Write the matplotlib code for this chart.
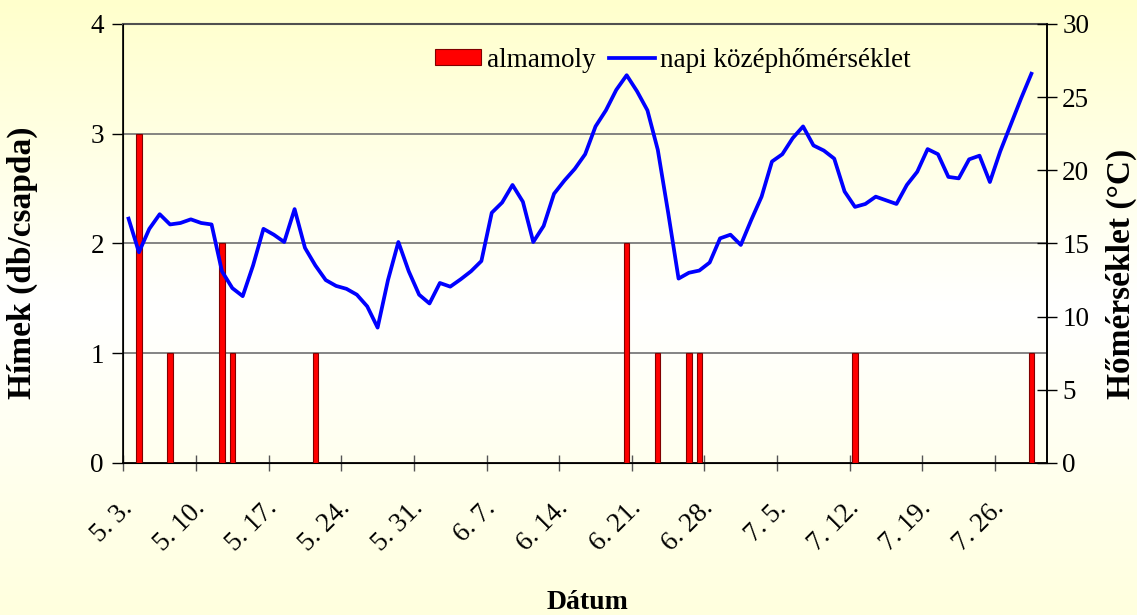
import numpy as np
import pandas as pd
import matplotlib
matplotlib.use('Agg')
import matplotlib.pyplot as plt
from matplotlib.patches import Patch
from matplotlib.lines import Line2D

# napok: 5.3. - 7.30.
days = pd.date_range('2020-05-03', '2020-07-30', freq='D')
day_labels = ['%d. %d.' % (d.month, d.day) for d in days]

# almamoly fogás (hím/csapda) naponta
moth = [0, 3, 0, 0, 1, 0, 0, 0, 0, 2, 1, 0, 0, 0, 0, 0, 0, 0, 1, 0,
        0, 0, 0, 0, 0, 0, 0, 0, 0, 0, 0, 0, 0, 0, 0, 0, 0, 0, 0, 0,
        0, 0, 0, 0, 0, 0, 0, 0, 2, 0, 0, 1, 0, 0, 1, 1, 0, 0, 0, 0,
        0, 0, 0, 0, 0, 0, 0, 0, 0, 0, 1, 0, 0, 0, 0, 0, 0, 0, 0, 0,
        0, 0, 0, 0, 0, 0, 0, 1, 0]

# napi középhőmérséklet (°C), 5.3. - 7.29.
temp = [16.7, 14.4, 16.0, 17.0, 16.3, 16.4, 16.65, 16.4, 16.3, 13.1,
        11.95, 11.4, 13.5, 16.0, 15.6, 15.1, 17.35, 14.7, 13.5, 12.5,
        12.1, 11.9, 11.5, 10.7, 9.25, 12.5, 15.1, 13.1, 11.5, 10.9,
        12.3, 12.05, 12.55, 13.1, 13.8, 17.1, 17.8, 19.0, 17.85, 15.1,
        16.2, 18.4, 19.3, 20.1, 21.1, 23.0, 24.1, 25.5, 26.5, 25.4,
        24.1, 21.4, 17.1, 12.6, 13.0, 13.15, 13.7, 15.35, 15.6, 14.9,
        16.6, 18.2, 20.6, 21.1, 22.2, 23.0, 21.7, 21.35, 20.8, 18.55,
        17.5, 17.7, 18.2, 17.95, 17.7, 19.0, 19.9, 21.45, 21.1, 19.55,
        19.45, 20.75, 21.0, 19.2, 21.3, 23.1, 24.9, 26.6]

plt.rcParams['font.family'] = ['Liberation Serif', 'DejaVu Serif']

fig = plt.figure(figsize=(11.37, 6.15), dpi=100)

# háttér színátmenet
bg = fig.add_axes([0, 0, 1, 1], zorder=-10)
yy = np.linspace(0, 1, 256)
top = np.array([255, 255, 204]) / 255
white = np.array([255, 255, 255]) / 255
bot = np.array([255, 255, 222]) / 255
grad = np.zeros((256, 1, 3))
for k, t in enumerate(yy):
    if t < 0.5:
        grad[k, 0] = top + (white - top) * (t / 0.5)
    else:
        grad[k, 0] = white + (bot - white) * ((t - 0.5) / 0.5)
bg.imshow(grad, aspect='auto', extent=[0, 1, 0, 1], origin='upper')
bg.axis('off')

ax = fig.add_axes([0.1085, 0.2472, 0.8123, 0.7138])
ax.patch.set_alpha(0)
x = np.arange(len(days)) + 0.5

ax.bar(x, moth, width=0.5, color='#FF0000', edgecolor='#800000', linewidth=0.8, zorder=3)
ax.set_xlim(0, len(days))
ax.set_ylim(0, 4)
ax.set_yticks([0, 1, 2, 3, 4])
ax.grid(axis='y', color='#707070', linewidth=1.2, zorder=1)
ax.set_axisbelow(True)

ax.set_xticks(np.arange(0, 85, 7))
ax.set_xticklabels([])
ax.set_xticks(x[::7], minor=True)
ax.set_xticklabels(day_labels[::7], minor=True, rotation=45, ha='right', va='center',
                   rotation_mode='anchor', fontsize=19.5)
ax.tick_params(axis='x', which='major', direction='inout', length=12, width=1, color='#555555')
ax.tick_params(axis='x', which='minor', length=0, pad=30)
ax.tick_params(axis='y', direction='out', length=8, width=1, labelsize=19.5, pad=6)

for s in ['left', 'bottom', 'right']:
    ax.spines[s].set_color('black')
    ax.spines[s].set_linewidth(1.2)
ax.spines['top'].set_color('#505050')
ax.spines['top'].set_linewidth(1.5)

ax2 = ax.twinx()
ax2.plot(x[:len(temp)], temp, color='#0000FF', linewidth=2.7, zorder=5)
ax2.set_ylim(0, 30)
ax2.set_yticks(range(0, 31, 5))
ax2.tick_params(axis='y', direction='inout', length=14, width=1, labelsize=19.5, pad=4)
ax2.spines['right'].set_color('black')
ax2.spines['right'].set_linewidth(1.2)
ax2.spines['top'].set_visible(False)

fig.text(0.0195, 0.573, 'Hímek (db/csapda)', rotation=90, ha='center', va='center',
         fontsize=24, fontweight='bold')
fig.text(0.986, 0.555, 'Hőmérséklet (°C)', rotation=90, ha='center', va='center',
         fontsize=24, fontweight='bold')
fig.text(0.517, 0.02, 'Dátum', ha='center', va='center', fontsize=20, fontweight='bold')

handles = [Patch(facecolor='#FF0000', edgecolor='#800000', linewidth=0.8),
           Line2D([0], [0], color='#0000FF', linewidth=2.7)]
fig.legend(handles, ['almamoly', 'napi középhőmérséklet'], loc='center',
           bbox_to_anchor=(0.592, 0.902), ncol=2, frameon=False, fontsize=19.5,
           handlelength=1.7, handleheight=0.5, handletextpad=0.2, columnspacing=0.5)

plt.savefig('out.png', dpi=100)
